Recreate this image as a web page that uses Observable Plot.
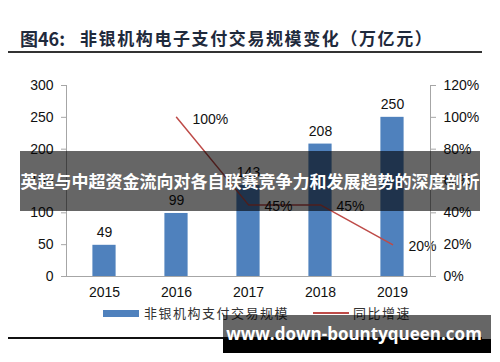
<!DOCTYPE html>
<html><head><meta charset="utf-8">
<script src="https://cdn.jsdelivr.net/npm/d3@7"></script>
<script src="https://cdn.jsdelivr.net/npm/@observablehq/plot@0.6"></script>
<style>
html,body{margin:0;padding:0;background:#fff;}
#wrap{position:relative;width:500px;height:362px;overflow:hidden;font-family:"Liberation Sans",Arial,sans-serif;}
#wrap svg{position:absolute;left:0;top:0;}
.abs{position:absolute;white-space:nowrap;}
</style></head>
<body>
<div id="wrap"></div>
<script>
const titleNo = "图46:";
const titleText = "非银机构电子支付交易规模变化（万亿元）";
const years = ["2015","2016","2017","2018","2019"];
const volume = [49, 99, 143, 208, 250];
const growthYears = ["2016","2017","2018","2019"];
const growth = [100, 45, 45, 20];
const leftTicks = [0, 50, 100, 150, 200, 250, 300];
const rightTicks = [0, 20, 40, 60, 80, 100, 120];
const seriesNames = ["非银机构支付交易规模", "同比增速"];
const bannerText = "英超与中超资金流向对各自联赛竞争力和发展趋势的深度剖析";
const watermark = "www.down-bountyqueen.com";

const k = 300 / 120; // right axis (%) mapped onto left axis units
const bars = years.map((y, i) => ({year: y, v: volume[i]}));
const line = growthYears.map((y, i) => ({year: y, g: growth[i], y2: growth[i] * k}));
const blue = "#4F81BD", red = "#BE4B48";

const chart = Plot.plot({
  width: 500, height: 362,
  marginLeft: 66, marginRight: 70, marginTop: 85, marginBottom: 86,
  style: {fontFamily: "'Liberation Sans', Arial, sans-serif", fontSize: "14px", color: "#111", background: "transparent"},
  x: {type: "band", domain: years, padding: 0},
  y: {domain: [0, 300]},
  marks: [
    Plot.barY(bars, {x: "year", y: "v", fill: blue, insetLeft: 24.4, insetRight: 24.4}),
    Plot.text(bars, {x: "year", y: "v", text: d => String(d.v), lineAnchor: "bottom", dy: -8, fontSize: 14, fill: "#111"}),
    Plot.line(line, {x: "year", y: "y2", stroke: red, strokeWidth: 1.5}),
    Plot.text(line, {x: "year", y: "y2", text: d => d.g + "%", textAnchor: "start", dx: 16, dy: 2, fontSize: 14, fill: "#111"}),
    Plot.ruleY([0], {stroke: "#a6a6a6"}),
    Plot.frame({anchor: "left", stroke: "#a6a6a6"}),
    Plot.frame({anchor: "right", stroke: "#a6a6a6"}),
    Plot.axisY({ticks: leftTicks, tickSize: 5, tickPadding: 8, label: null, stroke: "#a6a6a6", fill: "#111", fontSize: 14}),
    Plot.axisY({anchor: "right", ticks: rightTicks.map(v => v * k), tickFormat: d => Math.round(d / k) + "%", tickSize: 5, tickPadding: 8, label: null, stroke: "#a6a6a6", fill: "#111", fontSize: 14}),
    Plot.axisX({tickSize: 0, tickPadding: 11, label: null, fill: "#111", fontSize: 14})
  ]
});
const wrap = document.getElementById("wrap");
wrap.appendChild(chart);

function add(html, css) {
  const d = document.createElement("div");
  d.className = "abs";
  d.innerHTML = html;
  Object.assign(d.style, css);
  wrap.appendChild(d);
  return d;
}
// title
add(titleNo, {left: "20px", top: "26px", fontSize: "18px", fontWeight: "700", color: "#1f2a3c", fontFamily: "'Noto Sans CJK SC', sans-serif", lineHeight: "24px"});
add(titleText, {left: "80px", top: "26px", fontSize: "17px", fontWeight: "700", color: "#1f2a3c", fontFamily: "'Noto Sans CJK SC', sans-serif", letterSpacing: "1.6px", lineHeight: "24px"});
add("", {left: "8px", top: "51px", width: "474px", height: "2px", background: "#333"});
// legend
add("", {left: "103px", top: "310px", width: "36px", height: "7px", background: blue});
add(seriesNames[0], {left: "144px", top: "303px", fontSize: "13px", color: "#333", fontFamily: "'Noto Sans CJK SC', sans-serif", letterSpacing: "1.5px", lineHeight: "20px"});
add("", {left: "313px", top: "312px", width: "36px", height: "2px", background: red});
add(seriesNames[1], {left: "353px", top: "303px", fontSize: "13px", color: "#333", fontFamily: "'Noto Sans CJK SC', sans-serif", letterSpacing: "1.5px", lineHeight: "20px"});
// bottom rule
add("", {left: "8px", top: "337px", width: "474px", height: "1.5px", background: "#111"});
// banner
add("<span>" + bannerText + "</span>", {left: "20px", top: "151px", width: "460px", height: "60px", background: "rgba(0,0,0,0.6)", color: "#fff", fontSize: "17px", fontWeight: "700", fontFamily: "'Noto Sans CJK SC', sans-serif", lineHeight: "60px", textAlign: "center"});
// watermark
add("", {left: "223px", top: "315px", width: "268px", height: "24px", background: "rgba(0,0,0,0.6)"});
add("", {left: "223px", top: "339px", width: "268px", height: "14px", background: "#000"});
add(watermark, {left: "223px", top: "322px", width: "262px", textAlign: "center", color: "#fff", fontSize: "17px", fontWeight: "700", fontFamily: "'Open Sans', sans-serif", lineHeight: "24px"});
</script>
</body></html>
